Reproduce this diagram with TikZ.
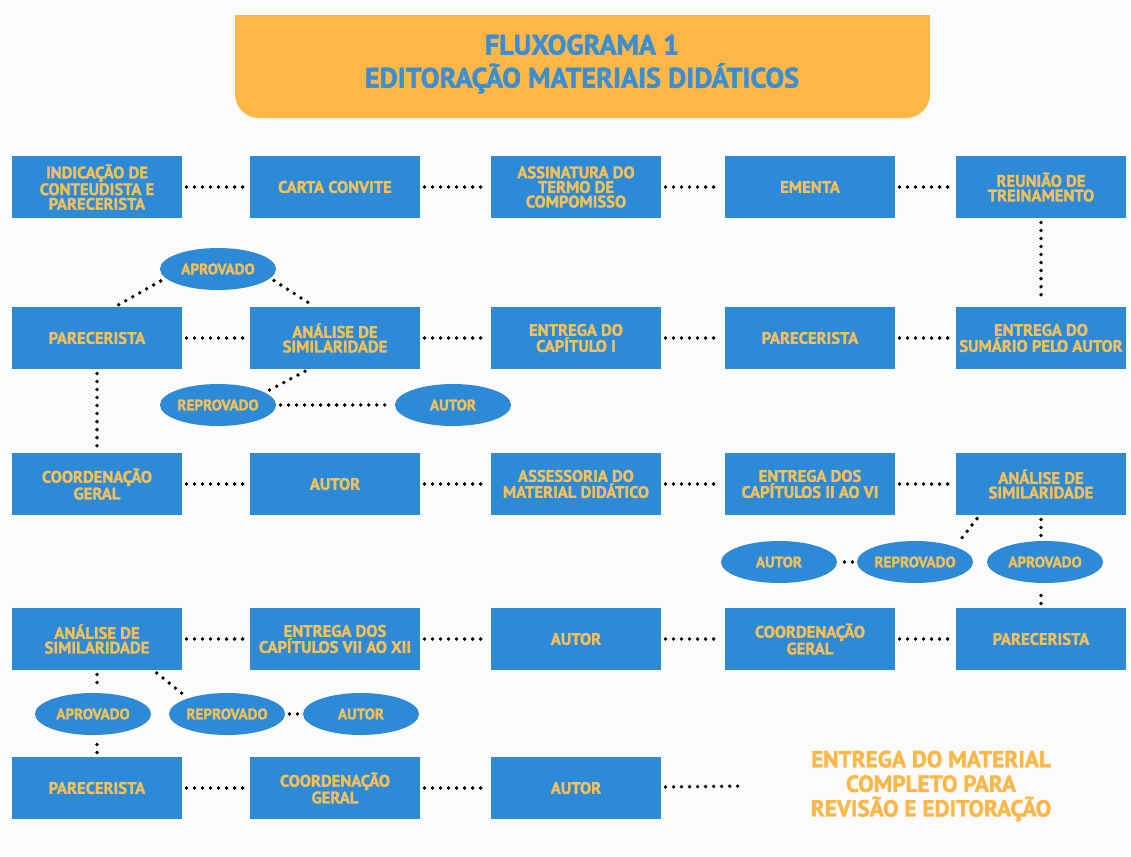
\documentclass[tikz,border=0pt]{standalone}
\usepackage{fontspec}
\setmainfont{PT Sans}[BoldFeatures={FakeBold=1.6}]
\usetikzlibrary{shapes.geometric}
\definecolor{caixa}{HTML}{2D8AD7}
\definecolor{texto}{HTML}{F3C05C}
\definecolor{faixa}{HTML}{FCB747}
\definecolor{titulo}{HTML}{3C8ED2}
\definecolor{fundo}{HTML}{FBFBFB}

\begin{document}
\begin{tikzpicture}[x=0.025cm, y=-0.025cm,
    etapa/.style={rectangle, fill=caixa, text=texto, minimum width=4.25cm, minimum height=1.55cm, align=center, inner sep=0pt, font=\bfseries\fontsize{11.8}{10.4}\selectfont},
    decisao/.style={ellipse, fill=caixa, text=texto, minimum width=2.9cm, minimum height=1.05cm, inner sep=0pt, font=\bfseries\fontsize{10.8}{12}\selectfont},
    pontos/.style={line width=2.7pt, line cap=round, dash pattern=on 0pt off 5.7pt, shorten <=3pt, shorten >=3pt}]
    \useasboundingbox (0,0) rectangle (1131,856);
    \fill[fundo] (0,0) rectangle (1131,856);

    % Title
    \fill[faixa, rounded corners=0.6cm] (235,15) rectangle (930,118);
    \fill[faixa] (235,15) rectangle (930,60);
    \node[text=titulo, align=center, font=\bfseries\fontsize{20}{23.5}\selectfont] (titulo) at (582,64) {FLUXOGRAMA 1\\EDITORAÇÃO MATERIAIS DIDÁTICOS};

    % Row 1
    \node[etapa] (indicacao) at (97,187) {INDICAÇÃO DE\\CONTEUDISTA E\\PARECERISTA};
    \node[etapa] (carta) at (335,187) {CARTA CONVITE};
    \node[etapa] (assinatura) at (576,187) {ASSINATURA DO\\TERMO DE\\COMPOMISSO};
    \node[etapa] (ementa) at (810,187) {EMENTA};
    \node[etapa] (reuniao) at (1041,187) {REUNIÃO DE\\TREINAMENTO};

    % Row 2
    \node[etapa] (parecerista1) at (97,338) {PARECERISTA};
    \node[etapa] (analise1) at (335,338) {ANÁLISE DE\\SIMILARIDADE};
    \node[etapa] (capitulo1) at (576,338) {ENTREGA DO\\CAPÍTULO I};
    \node[etapa] (parecerista0) at (810,338) {PARECERISTA};
    \node[etapa] (sumario) at (1041,338) {ENTREGA DO\\SUMÁRIO PELO AUTOR};

    % Row 3
    \node[etapa] (coordenacao1) at (97,484) {COORDENAÇÃO\\GERAL};
    \node[etapa] (autor1) at (335,484) {AUTOR};
    \node[etapa] (assessoria) at (576,484) {ASSESSORIA DO\\MATERIAL DIDÁTICO};
    \node[etapa] (capitulos2) at (810,484) {ENTREGA DOS\\CAPÍTULOS II AO VI};
    \node[etapa] (analise2) at (1041,484) {ANÁLISE DE\\SIMILARIDADE};

    % Row 4
    \node[etapa] (analise3) at (97,639) {ANÁLISE DE\\SIMILARIDADE};
    \node[etapa] (capitulos7) at (335,639) {ENTREGA DOS\\CAPÍTULOS VII AO XII};
    \node[etapa] (autor3) at (576,639) {AUTOR};
    \node[etapa] (coordenacao2) at (810,639) {COORDENAÇÃO\\GERAL};
    \node[etapa] (parecerista2) at (1041,639) {PARECERISTA};

    % Row 5
    \node[etapa] (parecerista3) at (97,788) {PARECERISTA};
    \node[etapa] (coordenacao3) at (335,788) {COORDENAÇÃO\\GERAL};
    \node[etapa] (autor4) at (576,788) {AUTOR};
    \node[text=faixa, align=center, font=\bfseries\fontsize{16.5}{17.5}\selectfont] (entrega) at (931,786) {ENTREGA DO MATERIAL\\COMPLETO PARA\\REVISÃO E EDITORAÇÃO};
    \coordinate (fimlinha) at (748,786);

    % Decisions
    \node[decisao] (aprovado1) at (218,269) {APROVADO};
    \node[decisao] (reprovado1) at (218,405) {REPROVADO};
    \node[decisao] (autorr1) at (453,405) {AUTOR};
    \node[decisao] (autorr2) at (779,562) {AUTOR};
    \node[decisao] (reprovado2) at (915,562) {REPROVADO};
    \node[decisao] (aprovado2) at (1045,562) {APROVADO};
    \node[decisao] (aprovado3) at (93,714) {APROVADO};
    \node[decisao] (reprovado3) at (227,714) {REPROVADO};
    \node[decisao] (autorr3) at (361,714) {AUTOR};

    % Connectors
    \foreach \a/\b in {indicacao/carta, carta/assinatura, assinatura/ementa, ementa/reuniao,
        parecerista1/analise1, analise1/capitulo1, capitulo1/parecerista0, parecerista0/sumario,
        coordenacao1/autor1, autor1/assessoria, assessoria/capitulos2, capitulos2/analise2,
        analise3/capitulos7, capitulos7/autor3, autor3/coordenacao2, coordenacao2/parecerista2,
        parecerista3/coordenacao3, coordenacao3/autor4, reuniao/sumario, parecerista1/coordenacao1,
        reprovado1/autorr1, reprovado2/autorr2, reprovado3/autorr3, autor4/fimlinha} {
        \draw[pontos] (\a) -- (\b);
    }
    \draw[pontos] (parecerista1.60) -- (aprovado1.190);
    \draw[pontos] (aprovado1.-10) -- (analise1.123);
    \draw[pontos] (analise1.230) -- (reprovado1.15);
    \draw[pontos] (analise2.207) -- (reprovado2.21);
    \draw[pontos] (analise2.south) -- (analise2.south |- aprovado2.north);
    \draw[pontos] (parecerista2.north) -- (parecerista2.north |- aprovado2.south);
    \draw[pontos] (analise3.-29) -- (reprovado3.158);
    \draw[pontos] (analise3.south) -- (analise3.south |- aprovado3.north);
    \draw[pontos] (parecerista3.north) -- (parecerista3.north |- aprovado3.south);
\end{tikzpicture}
\end{document}
